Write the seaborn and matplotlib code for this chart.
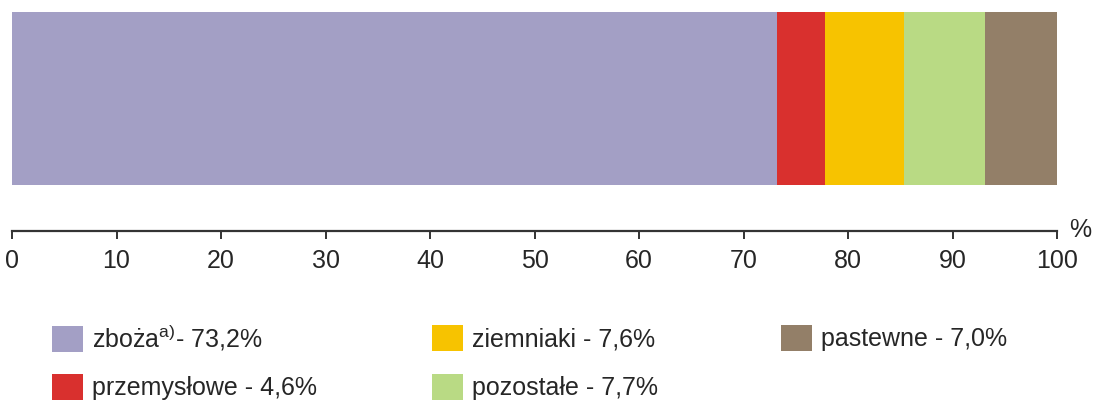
import numpy as np
import seaborn as sns
from matplotlib import pyplot as plt
from matplotlib.patches import Patch

# crop shares in sown area (%)
categories = ['zboża', 'przemysłowe', 'ziemniaki', 'pozostałe', 'pastewne']
shares = [73.2, 4.6, 7.6, 7.7, 7.0]
notes = ['a)', '', '', '', '']
colors = ['#A39FC5', '#D9302E', '#F7C300', '#B9DA84', '#937F68']
ticks = [0, 10, 20, 30, 40, 50, 60, 70, 80, 90, 100]

sns.set_style('white')
plt.rcParams['font.family'] = ['Liberation Sans', 'DejaVu Sans']
plt.rcParams['mathtext.default'] = 'regular'
text_color = '#262626'

fig = plt.figure(figsize=(10.96, 4.01), dpi=100)
ax = fig.add_axes([12 / 1096, 1 - 231 / 401, 1045 / 1096, 219 / 401])

# stacked bar: draw cumulative totals from largest to smallest
cum = np.cumsum(shares)
for total, c in reversed(list(zip(cum, colors))):
    sns.barplot(x=[total], y=[0], orient='h', color=c, width=1, saturation=1,
                linewidth=0, ax=ax)

ax.set_xlim(0, 100)
ax.set_ylim(0.766, -0.5)
ax.set_xticks(ticks)
ax.set_xticklabels([str(t) for t in ticks])
ax.set_yticks([])
ax.set_xlabel('')
ax.set_ylabel('')
for s in ['top', 'left', 'right']:
    ax.spines[s].set_visible(False)
ax.spines['bottom'].set_linewidth(1.6)
ax.spines['bottom'].set_color('#333333')
ax.tick_params(axis='x', direction='out', length=6, width=1.4, color='#333333',
               labelsize=18, labelcolor=text_color, pad=7, bottom=True)

fig.text(1080 / 1096, 1 - 230 / 401, '%', fontsize=18, color=text_color,
         ha='center', va='center')

labels = []
for name, val, note in zip(categories, shares, notes):
    sup = f'$^{{{note}}}$' if note else ' '
    labels.append(f'{name}{sup}- ' + f'{val:.1f}'.replace('.', ',') + '%')

# legend laid out column-wise: (left px, row centre px) per entry
slots = [(52, 338), (52, 387), (432, 338), (432, 387), (781, 338)]
for c, lab, (x0, y0) in zip(colors, labels, slots):
    leg = fig.legend([Patch(facecolor=c, edgecolor='none')], [lab],
                     loc='center left', bbox_to_anchor=(x0 / 1096, 1 - y0 / 401),
                     frameon=False, fontsize=18, handlelength=1.24,
                     handleheight=1.2, handletextpad=0.36, borderpad=0,
                     borderaxespad=0)
    for t in leg.get_texts():
        t.set_color(text_color)

fig.savefig('out.png', dpi=100)
